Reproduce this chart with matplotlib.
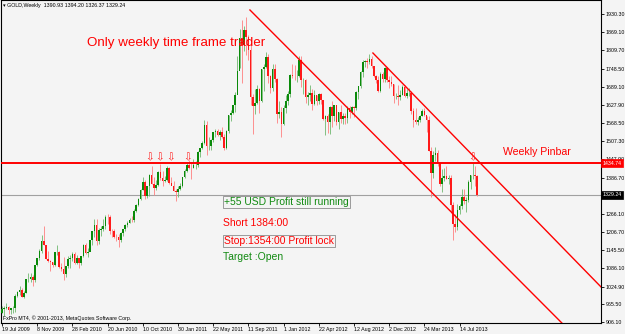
import matplotlib
matplotlib.use("Agg")
import matplotlib.pyplot as plt
import numpy as np

# ---------------- data (weekly GOLD, bar 0 = week of 19 Jul 2009) ----------------
close = [951, 955, 956, 947, 952, 955, 995, 1006, 1014, 991, 1004, 1049, 1051, 1056, 1045, 1095,
         1118, 1142, 1175, 1163, 1117, 1110, 1105, 1096, 1138, 1140, 1090, 1084, 1066, 1092, 1117, 1118,
         1134, 1102, 1120, 1104, 1126, 1162, 1136, 1140, 1180, 1208, 1228, 1176, 1213, 1217, 1226, 1257,
         1255, 1210, 1209, 1190, 1188, 1181, 1203, 1215, 1229, 1235, 1247, 1245, 1276, 1297, 1317, 1345,
         1371, 1326, 1358, 1394, 1367, 1353, 1363, 1406, 1385, 1377, 1380, 1420, 1369, 1360, 1342, 1340,
         1348, 1360, 1388, 1408, 1429, 1420, 1418, 1428, 1429, 1473, 1486, 1503, 1563, 1491, 1492, 1512,
         1537, 1542, 1529, 1539, 1521, 1486, 1542, 1594, 1602, 1628, 1662, 1742, 1852, 1828, 1877, 1855,
         1812, 1656, 1624, 1636, 1681, 1642, 1746, 1753, 1788, 1724, 1683, 1746, 1714, 1598, 1606, 1566,
         1617, 1640, 1665, 1727, 1725, 1723, 1725, 1777, 1711, 1711, 1656, 1661, 1668, 1631, 1660, 1642,
         1663, 1643, 1580, 1592, 1573, 1622, 1591, 1627, 1572, 1604, 1580, 1593, 1585, 1619, 1604, 1620,
         1617, 1672, 1690, 1738, 1770, 1773, 1772, 1780, 1757, 1724, 1711, 1676, 1731, 1713, 1751, 1711,
         1705, 1697, 1657, 1657, 1655, 1662, 1687, 1658, 1667, 1667, 1609, 1579, 1572, 1578, 1592, 1608,
         1596, 1579, 1476, 1403, 1463, 1469, 1435, 1364, 1386, 1393, 1383, 1387, 1297, 1234, 1223, 1278,
         1294, 1322, 1310, 1312, 1372, 1395, 1395, 1390.93, 1329.24]
high = [959, 961, 971, 961, 954, 960, 1000, 1011, 1025, 1019, 1011, 1051, 1071, 1070, 1064, 1097,
        1120, 1149, 1195, 1226, 1164, 1142, 1114, 1108, 1138, 1162, 1142, 1103, 1123, 1094, 1127, 1128,
        1140, 1139, 1128, 1110, 1127, 1165, 1170, 1153, 1180, 1210, 1249, 1249, 1218, 1225, 1250, 1262,
        1265, 1262, 1216, 1217, 1199, 1200, 1205, 1213, 1232, 1242, 1254, 1259, 1284, 1300, 1320, 1350,
        1388, 1379, 1360, 1398, 1424, 1390, 1378, 1410, 1432, 1408, 1392, 1424, 1423, 1388, 1375, 1349,
        1359, 1370, 1389, 1414, 1440, 1445, 1440, 1447, 1443, 1475, 1486, 1507, 1577, 1575, 1520, 1516,
        1538, 1547, 1549, 1546, 1556, 1530, 1544, 1595, 1610, 1628, 1672, 1790, 1881, 1912, 1890, 1921,
        1860, 1827, 1665, 1681, 1696, 1683, 1748, 1764, 1803, 1796, 1727, 1764, 1763, 1717, 1640, 1622,
        1627, 1660, 1675, 1730, 1764, 1760, 1745, 1790, 1792, 1718, 1716, 1670, 1693, 1681, 1679, 1661,
        1667, 1667, 1646, 1596, 1597, 1625, 1641, 1628, 1628, 1605, 1627, 1601, 1601, 1623, 1626, 1624,
        1625, 1675, 1692, 1740, 1777, 1779, 1785, 1796, 1790, 1757, 1728, 1724, 1738, 1737, 1754, 1754,
        1723, 1725, 1697, 1667, 1694, 1679, 1694, 1696, 1681, 1683, 1676, 1617, 1619, 1588, 1596, 1616,
        1617, 1592, 1590, 1487, 1474, 1488, 1479, 1440, 1416, 1419, 1424, 1397, 1397, 1305, 1267, 1298,
        1299, 1348, 1348, 1321, 1379, 1397, 1434, 1426, 1394.20]
low = [936, 928, 951, 934, 932, 936, 940, 990, 997, 989, 986, 1003, 1040, 1040, 1026, 1040,
       1093, 1112, 1136, 1164, 1117, 1105, 1075, 1089, 1092, 1128, 1088, 1078, 1045, 1058, 1087, 1086,
       1111, 1101, 1100, 1088, 1097, 1122, 1134, 1123, 1142, 1164, 1191, 1163, 1166, 1194, 1210, 1217,
       1231, 1200, 1190, 1186, 1177, 1157, 1172, 1192, 1210, 1221, 1235, 1240, 1240, 1271, 1294, 1311,
       1344, 1315, 1318, 1327, 1365, 1330, 1345, 1358, 1380, 1360, 1371, 1376, 1364, 1362, 1341, 1309,
       1323, 1344, 1354, 1385, 1405, 1415, 1381, 1417, 1415, 1423, 1455, 1483, 1500, 1462, 1478, 1480,
       1506, 1521, 1525, 1512, 1517, 1478, 1481, 1536, 1576, 1597, 1605, 1665, 1750, 1702, 1806, 1795,
       1776, 1627, 1532, 1599, 1630, 1603, 1639, 1676, 1751, 1702, 1668, 1676, 1705, 1567, 1586, 1522,
       1561, 1603, 1627, 1655, 1717, 1712, 1705, 1721, 1688, 1663, 1634, 1627, 1640, 1612, 1627, 1627,
       1631, 1632, 1577, 1527, 1534, 1532, 1556, 1576, 1562, 1547, 1569, 1564, 1566, 1567, 1586, 1598,
       1589, 1613, 1648, 1683, 1721, 1754, 1751, 1764, 1752, 1720, 1700, 1672, 1672, 1705, 1705, 1705,
       1684, 1690, 1636, 1649, 1627, 1646, 1661, 1656, 1651, 1659, 1598, 1554, 1565, 1562, 1572, 1592,
       1590, 1539, 1475, 1321, 1387, 1443, 1425, 1359, 1338, 1375, 1381, 1366, 1269, 1180, 1207, 1212,
       1267, 1283, 1300, 1272, 1306, 1349, 1381, 1360, 1326.37]
first_open = 937
# each weekly bar opens where the previous one closed
opens = [first_open] + close[:-1]

date_labels = ['19 Jul 2009', '8 Nov 2009', '28 Feb 2010', '20 Jun 2010', '10 Oct 2010',
               '30 Jan 2011', '22 May 2011', '11 Sep 2011', '1 Jan 2012', '22 Apr 2012',
               '12 Aug 2012', '2 Dec 2012', '24 Mar 2013', '14 Jul 2013']
date_bars = list(range(0, 16 * len(date_labels), 16))

price_ticks = [1930.30, 1869.10, 1809.70, 1748.50, 1689.10, 1627.90, 1568.50, 1507.30, 1447.90,
               1386.70, 1327.30, 1266.10, 1206.70, 1145.50, 1086.10, 1024.90, 965.50, 906.10]

pinbar_level = 1434.74
last_price = 1329.24

# trend lines (bar index, price)
lower_line_x = [112.7, 254.5]
lower_line_y = [1943.6, 903.6]
upper_line_x = [168.6, 272.3]
upper_line_y = [1800.7, 1023.3]

arrow_bars = [67, 71.5, 76.5, 84.5, 214]
arrow_price = 1453.6

# ---------------- figure ----------------
W, H = 625, 334
BG = '#f4f4f4'
fig = plt.figure(figsize=(W / 100, H / 100), dpi=100, facecolor=BG)
ax = fig.add_axes([1 / W, 1 - 323 / H, 600 / W, 323 / H])
ax.set_facecolor(BG)

ax.set_xlim(-0.4545, 272.27)
ax.set_ylim(903.7, 1976.8)

n = len(close)
xs = np.arange(n)
o = np.array(opens, float)
c = np.array(close, float)
h = np.array(high, float)
l = np.array(low, float)
up = c >= o

wick_col = np.where(up, '#6fb86f', '#ff7f7f')
body_col = np.where(up, '#0a8a0a', '#ff1a1a')
ax.vlines(xs, l, h, colors=wick_col, linewidth=0.6, zorder=2)
bottoms = np.minimum(o, c)
heights = np.maximum(np.abs(c - o), 1.5)
ax.bar(xs, heights, bottom=bottoms, width=0.72, color=body_col, linewidth=0, zorder=3)

# horizontal lines
ax.axhline(pinbar_level, color='#ff0000', lw=1.4, zorder=4)
ax.axhline(last_price, color='#a0a0a0', lw=0.8, zorder=1)

# trend lines
ax.plot(lower_line_x, lower_line_y, color='#ff0000', lw=1.0, zorder=4)
ax.plot(upper_line_x, upper_line_y, color='#ff0000', lw=1.0, zorder=4)

# arrows
for b in arrow_bars:
    ax.text(b, arrow_price, '\u21e9', color='#ff2020', fontsize=7.5, ha='center', va='center',
            family=['DejaVu Sans'], zorder=5)

# annotations
F = ['Liberation Sans', 'DejaVu Sans']
ax.text(38.6, 1834.0, 'Only weekly time frame trader', color='#ff0000', fontsize=9.6,
        family=F, ha='left', va='center', zorder=6)
ax.text(227.7, 1471.9, 'Weekly Pinbar', color='#ff0000', fontsize=7.6,
        family=F, ha='left', va='center', zorder=6)
ax.text(100.9, 1305.8, '+55 USD Profit still running', color='#128a12', fontsize=7.5,
        family=F, ha='left', va='center', zorder=6,
        bbox=dict(boxstyle='square,pad=0.12', fc='none', ec='#8c8c8c', lw=0.6))
ax.text(100.45, 1234.3, 'Short 1384:00', color='#ff0000', fontsize=7.5,
        family=F, ha='left', va='center', zorder=6)
ax.text(100.9, 1176.2, 'Stop:1354:00 Profit lock', color='#ff0000', fontsize=7.5,
        family=F, ha='left', va='center', zorder=6,
        bbox=dict(boxstyle='square,pad=0.12', fc='none', ec='#8c8c8c', lw=0.6))
ax.text(100.45, 1121.4, 'Target :Open', color='#128a12', fontsize=7.5,
        family=F, ha='left', va='center', zorder=6)

# axes styling
for s in ax.spines.values():
    s.set_color('black')
    s.set_linewidth(0.8)

ax.yaxis.tick_right()
ax.set_yticks(price_ticks)
# the tick at the current price is hidden behind the price box, as in the terminal
ax.set_yticklabels(['' if abs(p - last_price) < 5 else '%.2f' % p for p in price_ticks])
ax.tick_params(axis='y', direction='out', length=2.2, width=0.6, pad=1.2,
               labelsize=3.8, colors='black')
for t in ax.get_yticklabels():
    t.set_family(F)

ax.set_xticks(date_bars)
ax.set_xticklabels(date_labels)
ax.tick_params(axis='x', direction='out', length=2.2, width=0.6, pad=0.8,
               labelsize=3.8, colors='black')
for t in ax.get_xticklabels():
    t.set_family(F)
    t.set_horizontalalignment('left')

# price boxes on the right axis
ax.text(1.003, pinbar_level, '%.2f' % pinbar_level, transform=ax.get_yaxis_transform(),
        fontsize=3.8, family=F, color='white', ha='left', va='center', clip_on=False, zorder=10,
        bbox=dict(boxstyle='square,pad=0.25', fc='#ff0000', ec='#ff0000', lw=0.5))
ax.text(1.003, last_price, '%.2f' % last_price, transform=ax.get_yaxis_transform(),
        fontsize=3.8, family=F, color='white', ha='left', va='center', clip_on=False, zorder=10,
        bbox=dict(boxstyle='square,pad=0.25', fc='black', ec='black', lw=0.5))

# header and copyright
fig.text(3 / W, 1 - 5.5 / H, '\u25be GOLD,Weekly  1390.93 1394.20 1326.37 1329.24',
         fontsize=3.8, family=F, color='black', ha='left', va='center')
ax.text(0.004, 0.006, 'FxPro MT4, \u00a9 2001-2013, MetaQuotes Software Corp.', transform=ax.transAxes,
        fontsize=3.8, family=F, color='black', ha='left', va='bottom')

fig.savefig('out.png', dpi=100, facecolor=BG)
